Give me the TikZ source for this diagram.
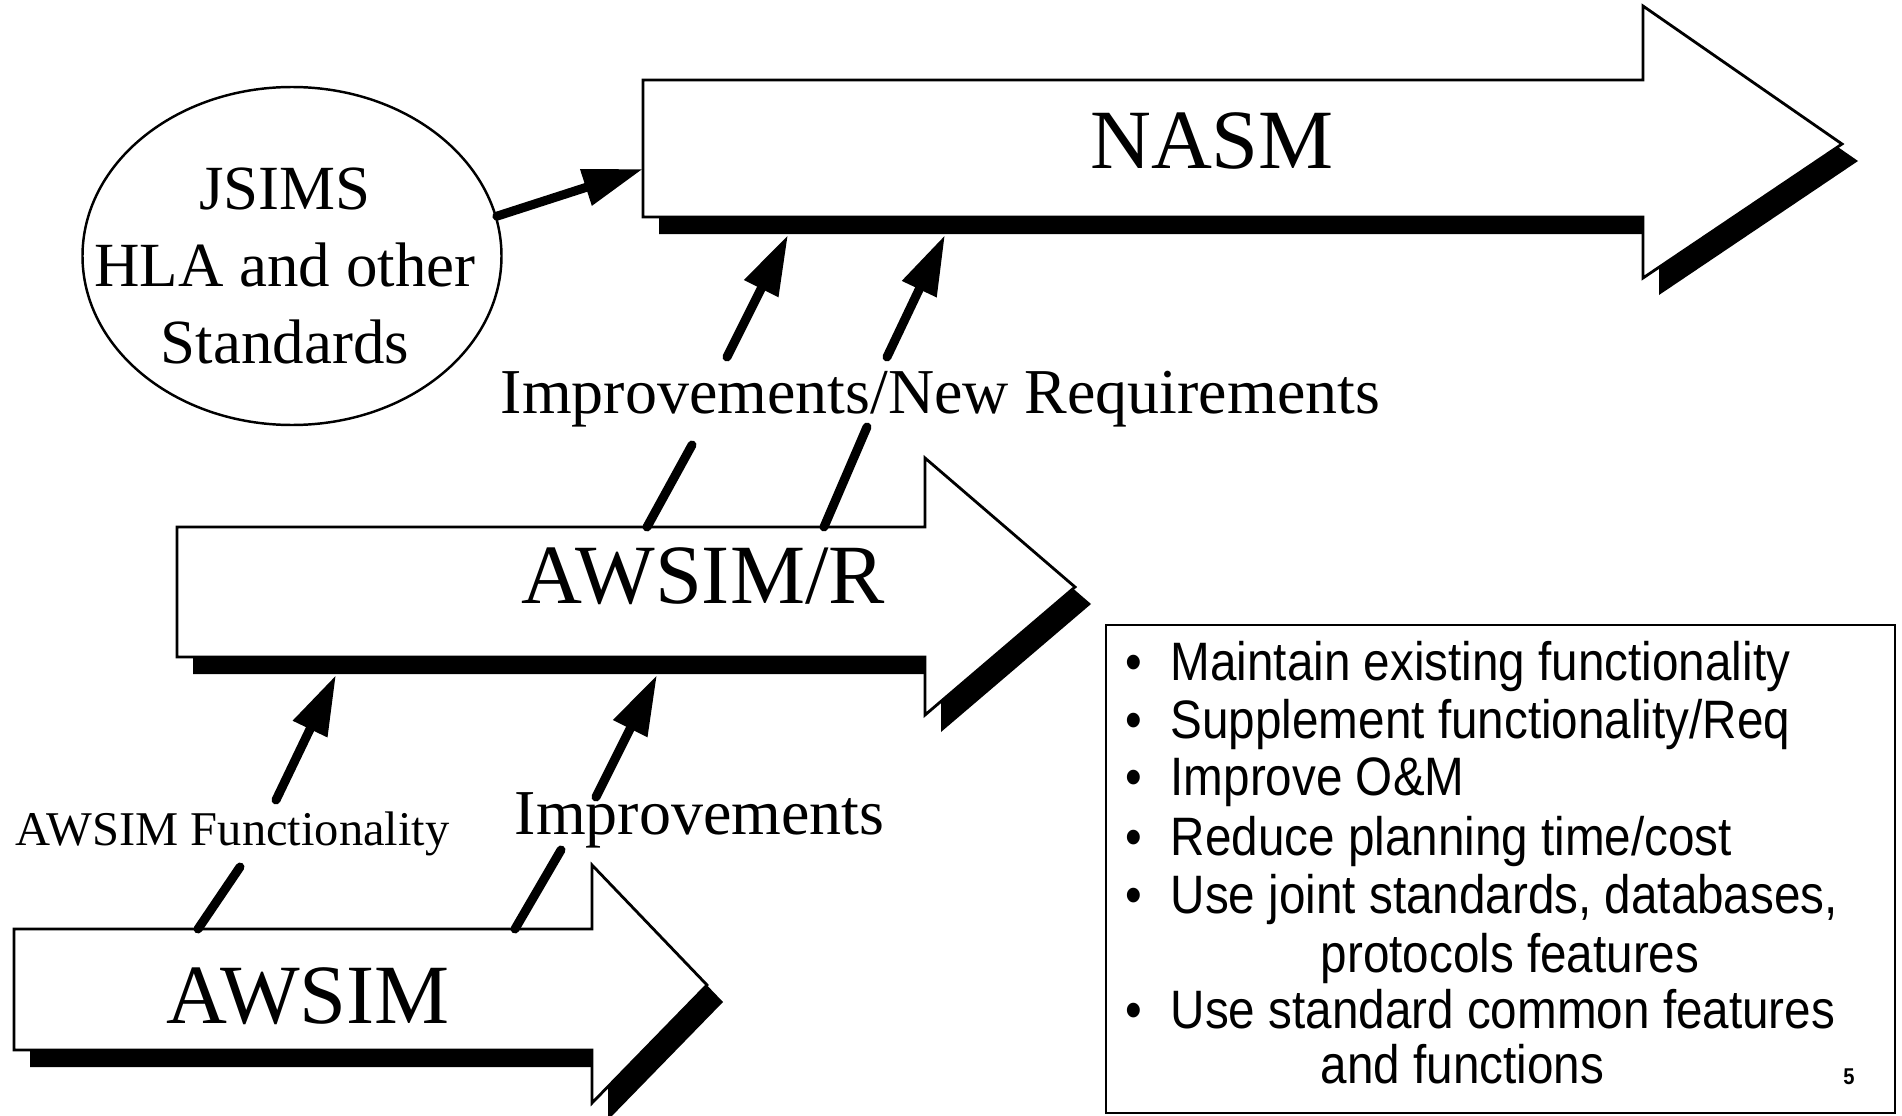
\documentclass[tikz,border=0pt]{standalone}
\usepackage{fontspec}
\setmainfont{Liberation Serif}
\newfontfamily\listfont[FakeStretch=0.88]{Liberation Sans}
\usepackage{tikz}
\usetikzlibrary{arrows.meta,shapes.geometric}

\tikzset{
  blockarrow/.style={draw=black, fill=white, line width=0.8pt, line join=miter},
  blockshadow/.style={fill=black},
  feed/.style={line width=0.9mm, line cap=round, -{Triangle[length=6mm,width=3.6mm]}},
  stub/.style={line width=0.9mm, line cap=round},
  bigname/.style={font=\fontsize{24}{28}\selectfont, inner sep=0pt, anchor=base},
  midname/.style={font=\fontsize{18.2}{22}\selectfont, inner sep=0pt, anchor=base west},
  smallname/.style={font=\fontsize{13.8}{16}\selectfont, inner sep=0pt, anchor=base west},
  listline/.style={font=\listfont\fontsize{15.4}{18}\selectfont, inner sep=0pt, anchor=base west},
}

% block arrow with its drop shadow: left, top, bottom, head x, head top, head bottom, tip x, tip y
\newcommand{\blockarrow}[8]{%
  \fill[blockshadow, shift={(16,17)}] (#1,#2) -- (#4,#2) -- (#4,#5) -- (#7,#8) -- (#4,#6) -- (#4,#3) -- (#1,#3) -- cycle;
  \draw[blockarrow] (#1,#2) -- (#4,#2) -- (#4,#5) -- (#7,#8) -- (#4,#6) -- (#4,#3) -- (#1,#3) -- cycle;}

\begin{document}
\begin{tikzpicture}[x=0.1mm, y=-0.1mm]
  \useasboundingbox (0,0) rectangle (1902,1116);
  \fill[white] (0,0) rectangle (1902,1116);

  % the three stages
  \blockarrow{643}{80}{217}{1643}{6}{278}{1842}{144}
  \blockarrow{177}{527}{657}{925}{458}{715}{1075}{587}
  \blockarrow{14}{929}{1050}{592}{865}{1103}{707}{985}
  \node[bigname] (nasm)   at (1212,168) {NASM};
  \node[bigname] (awsimr) at (703,603)  {AWSIM/R};
  \node[bigname] (awsim)  at (308,1023) {AWSIM};

  % standards bubble
  \node[draw, ellipse, line width=0.7pt, minimum width=41.9mm, minimum height=33.8mm] (jsims) at (292,256) {};
  \node[font=\fontsize{17.9}{21.8}\selectfont, align=center, inner sep=0pt] (jsimstext) at (285,266) {JSIMS\\HLA and other\\Standards};
  \coordinate (nasm-in) at (643,169);
  \draw[feed] (jsims.11) -- (nasm-in);

  % labels on the feeds
  \node[midname]   (impnew) at (500,413) {Improvements/New Requirements};
  \node[midname]   (imp)    at (514,834) {Improvements};
  \node[smallname] (func)   at (15,845)  {AWSIM Functionality};

  % feeds into NASM
  \coordinate (awsr-a) at (647,527);  \coordinate (gap-a1) at (692,445);
  \coordinate (gap-a2) at (727,357);  \coordinate (nasm-a) at (788,235);
  \coordinate (awsr-b) at (824,527);  \coordinate (gap-b1) at (867,427);
  \coordinate (gap-b2) at (887,357);  \coordinate (nasm-b) at (945,235);
  \draw[stub] (awsr-a) -- (gap-a1);
  \draw[feed] (gap-a2) -- (nasm-a);
  \draw[stub] (awsr-b) -- (gap-b1);
  \draw[feed] (gap-b2) -- (nasm-b);

  % feeds into AWSIM/R
  \coordinate (awsim-c) at (198,929); \coordinate (gap-c1) at (240,867);
  \coordinate (gap-c2) at (276,800);  \coordinate (awsr-c) at (336,675);
  \coordinate (awsim-d) at (515,929); \coordinate (gap-d1) at (561,850);
  \coordinate (gap-d2) at (596,797);  \coordinate (awsr-d) at (657,675);
  \draw[stub] (awsim-c) -- (gap-c1);
  \draw[feed] (gap-c2) -- (awsr-c);
  \draw[stub] (awsim-d) -- (gap-d1);
  \draw[feed] (gap-d2) -- (awsr-d);

  % goals box
  \node[draw, line width=0.6pt, minimum width=78.9mm, minimum height=48.8mm, inner sep=0pt] (goals) at (1500.5,869) {};
  \node[listline] (g1)  at (1125,680)  {\makebox[4.5mm][l]{•}Maintain existing functionality};
  \node[listline] (g2)  at (1125,738)  {\makebox[4.5mm][l]{•}Supplement functionality/Req};
  \node[listline] (g3)  at (1125,795)  {\makebox[4.5mm][l]{•}Improve O\&M};
  \node[listline] (g4)  at (1125,855)  {\makebox[4.5mm][l]{•}Reduce planning time/cost};
  \node[listline] (g5)  at (1125,913)  {\makebox[4.5mm][l]{•}Use joint standards, databases,};
  \node[listline] (g5b) at (1320,972)  {protocols features};
  \node[listline] (g6)  at (1125,1028) {\makebox[4.5mm][l]{•}Use standard common features};
  \node[listline] (g6b) at (1320,1083) {and functions};
  \node[font=\listfont\bfseries\fontsize{6.5}{8}\selectfont, inner sep=0pt] (page) at (1849,1077) {5};
\end{tikzpicture}
\end{document}
